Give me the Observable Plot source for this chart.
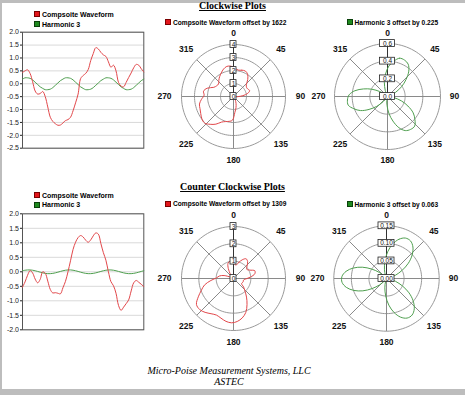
<!DOCTYPE html>
<html><head><meta charset="utf-8">
<script src="https://cdn.jsdelivr.net/npm/d3@7"></script>
<script src="https://cdn.jsdelivr.net/npm/@observablehq/plot@0.6"></script>
<style>
html,body{margin:0;padding:0;background:#fff;}
#page{position:relative;width:465px;height:395px;overflow:hidden;background:#fff;}
.abs{position:absolute;}
.title{position:absolute;left:0;width:465px;text-align:center;font:bold 10px "Liberation Serif","Times New Roman",serif;text-decoration:underline;line-height:12px;color:#000;}
.foot{position:absolute;left:0;width:458px;text-align:center;font:italic 10px "Liberation Serif","Times New Roman",serif;line-height:11px;color:#000;}
.leg{position:absolute;font:bold 7px "Liberation Sans",Arial,sans-serif;line-height:8px;color:#000;white-space:nowrap;}
.leg.small{font-size:6.6px;}
.sw{display:inline-block;width:4px;height:4px;margin-right:2px;vertical-align:-0.5px;}
.bar{position:absolute;background:#bdbdbd;}
</style></head><body><div id="page"></div>
<script>
// ---------- data ----------
const cwComposite = [0.44,0.50,0.54,0.40,0.08,-0.28,-0.40,-0.38,-0.30,-0.50,-0.90,-1.30,-1.46,-1.55,-1.61,-1.60,-1.52,-1.43,-1.39,-1.30,-1.05,-0.74,-0.40,0.20,0.32,0.40,0.55,0.90,1.17,1.40,1.35,1.22,1.12,1.06,0.85,0.64,0.72,0.50,0.05,-0.09,-0.12,0.05,0.24,0.42,0.62,0.75,0.72,0.58,0.46];
const cwHarmonic = [0.18,0.23,0.23,0.21,0.15,0.06,-0.03,-0.12,-0.18,-0.23,-0.23,-0.21,-0.15,-0.06,0.03,0.12,
                    0.18,0.23,0.23,0.21,0.15,0.06,-0.03,-0.12,-0.18,-0.23,-0.23,-0.21,-0.15,-0.06,0.03,0.12,
                    0.18,0.23,0.23,0.21,0.15,0.06,-0.03,-0.12,-0.18,-0.23,-0.23,-0.21,-0.15,-0.06,0.03,0.12,0.18];
const ccwComposite = [-0.53,-0.35,-0.12,0.04,-0.04,-0.25,-0.38,-0.26,0.00,-0.05,-0.32,-0.61,-0.73,-0.72,-0.74,-0.76,-0.55,-0.33,0.00,0.38,0.77,1.02,1.18,1.25,1.20,1.09,1.02,1.10,1.24,1.34,1.30,0.98,0.66,0.40,0.00,-0.34,-0.48,-0.74,-1.16,-1.33,-1.22,-1.10,-0.97,-0.66,-0.38,-0.30,-0.36,-0.43,-0.51];
const ccwHarmonic = [0.036,0.054,0.064,0.064,0.054,0.036,0.013,-0.013,-0.036,-0.054,-0.064,-0.064,-0.054,-0.036,-0.013,0.013,
                     0.036,0.054,0.064,0.064,0.054,0.036,0.013,-0.013,-0.036,-0.054,-0.064,-0.064,-0.054,-0.036,-0.013,0.013,
                     0.036,0.054,0.064,0.064,0.054,0.036,0.013,-0.013,-0.036,-0.054,-0.064,-0.064,-0.054,-0.036,-0.013,0.013,0.036];
const cwYTicks = [2.0,1.5,1.0,0.5,0.0,-0.5,-1.0,-1.5,-2.0,-2.5];
const ccwYTicks = [2.0,1.5,1.0,0.5,0.0,-0.5,-1.0,-1.5,-2.0];
const angleTicks = [0,45,90,135,180,225,270,315];
const cwCompRings = [0,1,2,3,4];
const cwCompRingText = ["0","1","2","3","4"];
const cwHarmRings = [0,0.2,0.4,0.6];
const cwHarmRingText = ["0.0","0.2","0.4","0.6"];
const ccwCompRings = [0,1,2,3];
const ccwCompRingText = ["0","1","2","3"];
const ccwHarmRings = [0,0.05,0.10,0.15];
const ccwHarmRingText = ["0.00","0.05","0.10","0.15"];
const offsets = {cwComp: 1.622, cwHarm: 0.225, ccwComp: 1.309, ccwHarm: 0.063};
const offsetText = {cwComp: "1622", cwHarm: "0.225", ccwComp: "1309", ccwHarm: "0.063"};
const seriesNames = ["Compsoite Waveform", "Harmonic 3"];

// ---------- styles ----------
const RED = "#e2474a", GREEN = "#4f9f4f";
const SW_RED = "#e3161b", SW_RED_B = "#7a0000", SW_GREEN = "#1f8a1f", SW_GREEN_B = "#0a400a";
const startAngle = 10;
const RAD = Math.PI / 180;
const labelGap = a => (a % 180 === 0 ? 63.5 : a === 270 ? 69 : 67);
const page = document.getElementById("page");

function place(el, left, top) {
  const d = document.createElement("div");
  d.className = "abs";
  d.style.left = left + "px"; d.style.top = top + "px";
  d.appendChild(el); page.appendChild(d); return d;
}
function html(cls, text, left, top, extra) {
  const d = document.createElement("div");
  d.className = cls; d.textContent = text;
  if (left != null) d.style.left = left + "px";
  d.style.top = top + "px";
  if (extra) Object.assign(d.style, extra);
  page.appendChild(d); return d;
}
function legend(text, color, border, left, top, small) {
  const d = document.createElement("div");
  d.className = "leg" + (small ? " small" : "");
  d.style.left = left + "px"; d.style.top = top + "px";
  const s = document.createElement("span");
  s.className = "sw"; s.style.background = color; s.style.border = "1px solid " + border;
  d.appendChild(s); d.appendChild(document.createTextNode(text));
  page.appendChild(d);
}

function lineChart({top, comp, harm, ticks, mt, mb}) {
  const W = 150, H = 160;
  const compData = comp.map((v, i) => ({i, v}));
  const harmData = harm.map((v, i) => ({i, v}));
  const svg = Plot.plot({
    width: W, height: H,
    marginLeft: 22, marginRight: 6.7, marginTop: mt, marginBottom: mb,
    style: {background: "transparent", fontFamily: "Liberation Sans, Arial, sans-serif", fontSize: "7px", color: "#222", maxWidth: "none", overflow: "visible"},
    x: {domain: [0, comp.length - 1], axis: null},
    y: {domain: [d3.min(ticks), d3.max(ticks)], ticks: ticks, tickFormat: d => d.toFixed(1), tickSize: 2, tickPadding: 1.5, label: null},
    marks: [
      Plot.ruleY(ticks, {stroke: "#d9d9d9", strokeWidth: 1}),
      Plot.frame({stroke: "#555"}),
      Plot.line(harmData, {x: "i", y: "v", stroke: GREEN, strokeWidth: 1, curve: "catmull-rom"}),
      Plot.line(compData, {x: "i", y: "v", stroke: RED, strokeWidth: 1, curve: "catmull-rom"})
    ]
  });
  place(svg, 0, top);
}

function polarChart({cx, cy, rpx, rings, ringText, values, offset, color, boxW}) {
  const S = 170, h = S / 2;
  const rmax = d3.max(rings);
  const k = rmax / rpx;
  const circles = rings.filter(r => r > 0).flatMap(r =>
    d3.range(0, 361, 3).map(a => ({ring: r, x: r * Math.sin(a * RAD), y: r * Math.cos(a * RAD)})));
  const spokes = angleTicks.map(a => ({x: rmax * Math.sin(a * RAD), y: rmax * Math.cos(a * RAD)}));
  const labels = angleTicks.map(a => ({x: labelGap(a) * k * Math.sin(a * RAD), y: labelGap(a) * k * Math.cos(a * RAD), t: String(a)}));
  const n = values.length - 1;
  const curve = values.slice(0, n).map((v, i) => {
    const a = (startAngle + 360 * i / n) * RAD, r = v + offset;
    return {x: r * Math.sin(a), y: r * Math.cos(a)};
  });
  const boxes = rings.map((r, i) => ({y: r, t: ringText[i]}));
  const svg = Plot.plot({
    width: S, height: S, margin: 0,
    style: {background: "transparent", fontFamily: "Liberation Sans, Arial, sans-serif", color: "#000", maxWidth: "none", overflow: "visible"},
    x: {domain: [-rmax, rmax], range: [h - rpx, h + rpx], axis: null},
    y: {domain: [-rmax, rmax], range: [h + rpx, h - rpx], axis: null},
    marks: [
      Plot.line(circles, {x: "x", y: "y", z: "ring", stroke: "#9a9a9a", strokeWidth: 1}),
      Plot.link(spokes, {x1: 0, y1: 0, x2: "x", y2: "y", stroke: "#8a8a8a", strokeWidth: 1}),
      Plot.link([rmax], {x1: 0, y1: 0, x2: 0, y2: d => d, stroke: "#333", strokeWidth: 1}),
      Plot.line(curve, {x: "x", y: "y", stroke: color, strokeWidth: 1, curve: "catmull-rom-closed"}),
      Plot.rect(boxes, {x1: 0, x2: 0, y1: "y", y2: "y", insetLeft: -boxW / 2, insetRight: -boxW / 2, insetTop: -3.4, insetBottom: -3.4, fill: "white", stroke: "#222", strokeWidth: 0.8}),
      Plot.text(boxes, {x: 0, y: "y", text: "t", fontSize: 6.5, fill: "#111"}),
      Plot.text(labels, {x: "x", y: "y", text: "t", fontSize: 8.5, fontWeight: "bold", fill: "#111"})
    ]
  });
  place(svg, cx - h, cy - h);
}

// ---------- frame ----------
const bars = [[0, 0, 465, 3], [0, 0, 2, 395], [0, 389, 465, 6]];
bars.forEach(([l, t, w, hh]) => { const d = document.createElement("div"); d.className = "bar"; Object.assign(d.style, {left: l + "px", top: t + "px", width: w + "px", height: hh + "px"}); page.appendChild(d); });

// ---------- titles ----------
html("title", "Clockwise Plots", 0, 0);
html("title", "Counter Clockwise Plots", 0, 181);

// ---------- line charts ----------
lineChart({top: 0, comp: cwComposite, harm: cwHarmonic, ticks: cwYTicks, mt: 31.7, mb: 12.3});
lineChart({top: 180, comp: ccwComposite, harm: ccwHarmonic, ticks: ccwYTicks, mt: 33.3, mb: 10.7});
legend(seriesNames[0], SW_RED, SW_RED_B, 34, 10.5);
legend(seriesNames[1], SW_GREEN, SW_GREEN_B, 34, 20.5);
legend(seriesNames[0], SW_RED, SW_RED_B, 34, 191.5);
legend(seriesNames[1], SW_GREEN, SW_GREEN_B, 34, 201);

// ---------- polar charts ----------
polarChart({cx: 232.5, cy: 95.7, rpx: 52, rings: cwCompRings, ringText: cwCompRingText, values: cwComposite, offset: offsets.cwComp, color: RED, boxW: 6});
polarChart({cx: 386.7, cy: 95.7, rpx: 53, rings: cwHarmRings, ringText: cwHarmRingText, values: cwHarmonic, offset: offsets.cwHarm, color: GREEN, boxW: 15});
polarChart({cx: 233.3, cy: 277.7, rpx: 52, rings: ccwCompRings, ringText: ccwCompRingText, values: ccwComposite, offset: offsets.ccwComp, color: RED, boxW: 6});
polarChart({cx: 386, cy: 277.7, rpx: 52.7, rings: ccwHarmRings, ringText: ccwHarmRingText, values: ccwHarmonic, offset: offsets.ccwHarm, color: GREEN, boxW: 16});
legend(seriesNames[0] + " offset by " + offsetText.cwComp, SW_RED, SW_RED_B, 165, 18.5, true);
legend(seriesNames[1] + " offset by " + offsetText.cwHarm, SW_GREEN, SW_GREEN_B, 346.5, 18.5, true);
legend(seriesNames[0] + " offset by " + offsetText.ccwComp, SW_RED, SW_RED_B, 165, 200, true);
legend(seriesNames[1] + " offset by " + offsetText.ccwHarm, SW_GREEN, SW_GREEN_B, 346.5, 200.5, true);

// ---------- footer ----------
html("foot", "Micro-Poise Measurement Systems, LLC", 0, 365);
html("foot", "ASTEC", 0, 376);
</script>
</body></html>
